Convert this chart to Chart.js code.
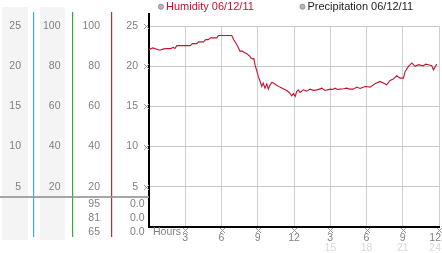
<!DOCTYPE html>
<html>
<head>
<meta charset="utf-8">
<script src="https://cdn.jsdelivr.net/npm/chart.js@4/dist/chart.umd.min.js"></script>
<style>
  html, body { margin: 0; padding: 0; background: #fff; overflow: hidden; }
  canvas { display: block; }
</style>
</head>
<body>
<canvas id="chart" width="442" height="253"></canvas>
<script>
(function () {
    'use strict';

    // time of each reading, in hours from the start of the window
    const hours = [
        0.0, 0.3, 0.6, 0.9, 1.2, 1.5, 1.8, 2.0, 2.15, 2.3, 2.8, 3.4, 3.6, 3.95, 4.1, 4.5,
        4.7, 4.9, 5.1, 5.6, 5.75, 6.85, 7.0, 7.26, 7.4, 7.53, 7.7, 7.85, 8.09, 8.3, 8.45, 8.6,
        8.68, 8.77, 8.9, 9.05, 9.2, 9.33, 9.45, 9.6, 9.75, 9.88, 10.0, 10.16, 10.3, 10.5, 10.84, 11.1,
        11.4, 11.6, 11.81, 11.95, 12.1, 12.22, 12.36, 12.5, 12.78, 13.05, 13.33, 13.6, 13.88, 14.1, 14.3, 14.57,
        14.98, 15.2, 15.4, 15.6, 15.8, 16.1, 16.36, 16.6, 16.9, 17.2, 17.47, 17.88, 18.1, 18.3, 18.7, 19.12,
        19.4, 19.67, 19.95, 20.22, 20.5, 20.78, 21.05, 21.2, 21.47, 21.75, 22.02, 22.3, 22.5, 22.7, 22.9, 23.12,
        23.4, 23.54, 23.82
    ];
    const humidity = [
        22.06, 22.27, 22.15, 21.98, 22.15, 22.19, 22.19, 22.35, 22.2, 22.56, 22.56, 22.56, 22.81, 22.81, 23.02, 23.02,
        23.31, 23.31, 23.52, 23.52, 23.81, 23.81, 23.31, 22.69, 22.3, 21.85, 21.9, 21.73, 21.56, 21.3, 21.02, 20.9,
        20.95, 20.19, 19.5, 18.73, 18.1, 17.48, 17.9, 17.27, 17.81, 17.15, 17.6, 17.98, 17.9, 17.69, 17.4, 17.2,
        16.98, 16.73, 16.31, 16.6, 16.23, 16.85, 17.06, 16.73, 17.06, 16.9, 17.15, 17.0, 17.06, 17.15, 17.27, 16.98,
        17.15, 17.1, 17.27, 17.1, 17.15, 17.2, 17.27, 17.15, 17.15, 17.4, 17.23, 17.48, 17.45, 17.4, 17.81, 18.1,
        17.9, 17.69, 18.23, 18.4, 18.81, 18.52, 18.52, 19.35, 19.98, 20.4, 19.98, 20.19, 20.1, 20.06, 20.25, 20.19,
        20.06, 19.56, 20.27
    ];

    const seriesLabels = ['Humidity 06/12/11', 'Precipitation 06/12/11'];
    const seriesColors = ['#c8102e', '#222222'];
    const scaleTicks = [5, 10, 15, 20, 25];
    const percentTicks = [20, 40, 60, 80, 100];
    const hourTicks = [3, 6, 9, 12, 15, 18, 21, 24];
    const humidityReadings = ['95', '81', '65'];
    const precipReadings = ['0.0', '0.0', '0.0'];
    const hoursTitle = 'Hours';

    const numFont = '10.5px "Liberation Sans", Arial, sans-serif';
    const legendFont = '11px "Liberation Sans", Arial, sans-serif';
    const textGray = '#808080';

    function mark(ctx, cx, cy) {
        const dots = [[0, 0], [4, 0], [1, 1], [3, 1], [2, 2], [1, 3], [3, 3], [0, 4], [4, 4]];
        ctx.fillStyle = '#9a9a9a';
        dots.forEach(d => ctx.fillRect(Math.round(cx) - 2 + d[0], Math.round(cy) - 2 + d[1], 1, 1));
    }

    const sidePanel = {
        id: 'sidePanel',
        beforeDraw(chart) {
            const ctx = chart.ctx;
            ctx.save();
            ctx.fillStyle = '#f4f4f4';
            ctx.fillRect(2, 7, 26, 233);
            ctx.fillRect(40, 7, 25, 233);
            ctx.restore();
        },
        afterDraw(chart) {
            const ctx = chart.ctx;
            const x = chart.scales.x;
            const y = chart.scales.y;
            const area = chart.chartArea;
            ctx.save();

            // scale columns on the left
            ctx.font = numFont;
            ctx.textAlign = 'right';
            ctx.textBaseline = 'middle';
            scaleTicks.forEach(v => {
                const py = y.getPixelForValue(v);
                ctx.fillStyle = textGray;
                ctx.fillText(String(v), 21, py);
                ctx.fillText(String(v), 138, py);
                mark(ctx, 146, py);
            });
            ctx.fillStyle = textGray;
            percentTicks.forEach(v => {
                const py = y.getPixelForValue(v / 4);
                ctx.fillText(String(v), 60.5, py);
                ctx.fillText(String(v), 100, py);
            });

            // coloured column rules and separator
            [['#38b0dc', 33], ['#36a83c', 72], ['#c42a2a', 111]].forEach(r => {
                ctx.fillStyle = r[0];
                ctx.fillRect(r[1], 12, 1.2, 225);
            });
            ctx.fillStyle = 'rgba(150,150,150,0.85)';
            ctx.fillRect(0, 196, area.left, 2);

            // latest readings
            ctx.fillStyle = textGray;
            const rows = [204, 218.5, 232.5];
            humidityReadings.forEach((t, i) => ctx.fillText(t, 100, rows[i]));
            precipReadings.forEach((t, i) => ctx.fillText(t, 144.5, rows[i]));

            // axis extension above the top grid line
            ctx.fillStyle = '#000';
            ctx.fillRect(area.left - 1, 13, 2, area.top - 13);

            // hour labels
            ctx.textAlign = 'left';
            ctx.fillStyle = textGray;
            ctx.fillText(hoursTitle, 153, 232);
            ctx.textAlign = 'center';
            hourTicks.forEach(v => {
                const px = x.getPixelForValue(v);
                mark(ctx, px, 230);
                const top = String(((v - 1) % 12) + 1);
                const w = ctx.measureText(top).width;
                ctx.fillStyle = textGray;
                ctx.fillText(top, Math.min(px, 441 - w / 2), 238.5);
                if (v > 12) {
                    const w2 = ctx.measureText(String(v)).width;
                    ctx.fillStyle = '#d6d6d6';
                    ctx.fillText(String(v), Math.min(px, 441 - w2 / 2), 248);
                }
            });

            // legend
            ctx.font = legendFont;
            ctx.textAlign = 'left';
            const legendX = [161, 302.5];
            seriesLabels.forEach((label, i) => {
                ctx.beginPath();
                ctx.arc(legendX[i], 6.7, 2.6, 0, Math.PI * 2);
                ctx.fillStyle = '#b4b4b4';
                ctx.fill();
                ctx.strokeStyle = '#8c8c8c';
                ctx.lineWidth = 0.8;
                ctx.stroke();
                ctx.fillStyle = seriesColors[i];
                ctx.fillText(label, legendX[i] + 5, 7);
            });
            ctx.restore();
        }
    };

    new Chart(document.getElementById('chart').getContext('2d'), {
        type: 'line',
        data: {
            datasets: [{
                label: seriesLabels[0],
                data: hours.map((h, i) => ({ x: h, y: humidity[i] })),
                borderColor: seriesColors[0],
                borderWidth: 1.1,
                pointRadius: 0,
                tension: 0,
                fill: false
            }, {
                label: seriesLabels[1],
                data: [],
                borderColor: seriesColors[1],
                pointRadius: 0
            }]
        },
        options: {
            responsive: false,
            animation: false,
            devicePixelRatio: 1,
            layout: { padding: { left: 149, top: 26, right: 3, bottom: 26 } },
            scales: {
                x: {
                    type: 'linear', min: 0, max: 24,
                    ticks: { display: false, stepSize: 3 },
                    grid: { color: '#d0d0d0', drawTicks: false },
                    border: { color: '#000', width: 2 }
                },
                y: {
                    min: 0, max: 25,
                    ticks: { display: false, stepSize: 5 },
                    grid: { color: '#c8c8c8', drawTicks: false },
                    border: { color: '#000', width: 2 }
                }
            },
            plugins: { legend: { display: false }, tooltip: { enabled: false } }
        },
        plugins: [sidePanel]
    });
})();
</script>
</body>
</html>
